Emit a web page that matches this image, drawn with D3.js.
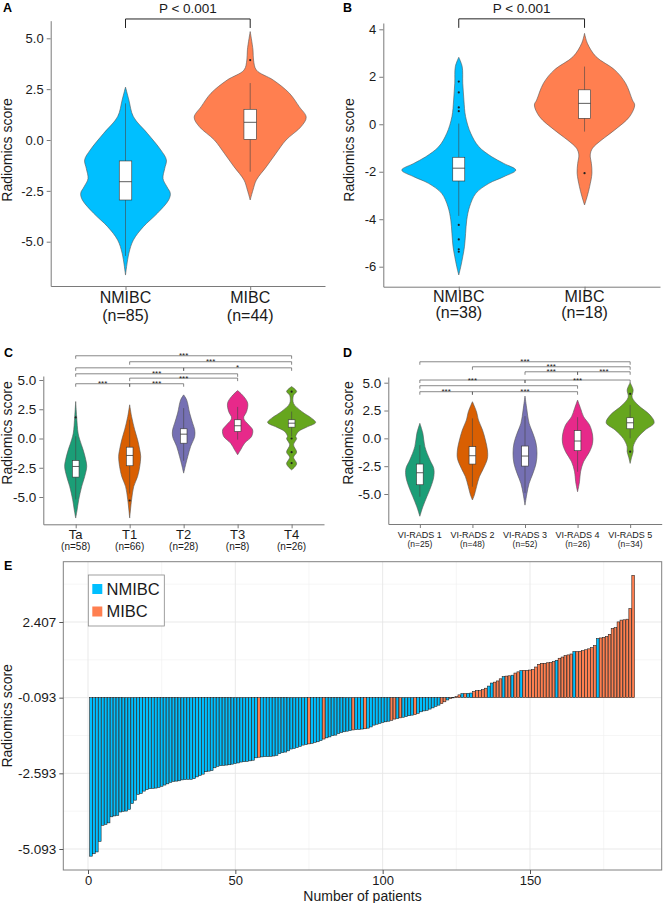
<!DOCTYPE html>
<html><head><meta charset="utf-8">
<script src="https://cdn.jsdelivr.net/npm/d3@7"></script>
<style>
body{margin:0;background:#fff;}
svg{display:block;font-family:"Liberation Sans",Arial,sans-serif;}
</style></head><body>
<svg id="fig" width="664" height="903"></svg>
<script>
// ---------------- DATA ----------------
const catsAB = ["NMIBC", "MIBC"];
const nA = ["(n=85)", "(n=44)"];
const nB = ["(n=38)", "(n=18)"];
const catsC = ["Ta", "T1", "T2", "T3", "T4"];
const nC = ["(n=58)", "(n=66)", "(n=28)", "(n=8)", "(n=26)"];
const catsD = ["VI-RADS 1", "VI-RADS 2", "VI-RADS 3", "VI-RADS 4", "VI-RADS 5"];
const nD = ["(n=25)", "(n=48)", "(n=52)", "(n=26)", "(n=34)"];

const ticksAC = [-5, -2.5, 0, 2.5, 5];
const ticksB = [-6, -4, -2, 0, 2, 4];
const ticksE = [-5.093, -2.593, -0.093, 2.407];
const ticksEx = [0, 50, 100, 150];

// violin density profiles: [radiomics score, relative density]
const densA_NMIBC = [[2.6,0],[1.97,0.06],[1.15,0.14],[0.33,0.39],[-0.49,0.63],[-0.98,0.73],[-1.4,0.70],[-1.9,0.67],[-2.3,0.74],[-2.62,0.80],[-2.95,0.77],[-3.6,0.57],[-4.26,0.32],[-4.92,0.14],[-5.57,0.06],[-6.64,0]];
const densA_MIBC = [[5.33,0],[4.43,0.05],[3.93,0.06],[3.44,0.11],[2.95,0.41],[2.3,0.70],[1.64,0.875],[1.12,1.0],[0.66,0.91],[0,0.64],[-0.66,0.46],[-1.31,0.29],[-1.97,0.11],[-2.46,0.05],[-2.95,0]];
const densB_NMIBC = [[2.82,0],[2.43,0.06],[1.73,0.07],[1.02,0.09],[0.32,0.12],[-0.38,0.21],[-0.94,0.35],[-1.37,0.58],[-1.65,0.79],[-1.93,1.0],[-2.21,0.79],[-2.49,0.53],[-2.91,0.30],[-3.47,0.19],[-4.03,0.14],[-4.6,0.12],[-5.16,0.10],[-5.58,0.07],[-6.0,0.035],[-6.35,0]];
const densB_MIBC = [[3.83,0],[3.41,0.05],[2.85,0.2],[2.29,0.53],[1.73,0.72],[1.02,0.84],[0.81,0.88],[0.32,0.79],[-0.24,0.53],[-0.66,0.3],[-1.01,0.14],[-1.29,0.1],[-1.65,0.12],[-2.06,0.13],[-2.62,0.09],[-3.05,0.045],[-3.4,0]];
const densC_Ta = [[3.16,0],[1.88,0.04],[0.46,0.1],[-0.11,0.17],[-0.97,0.31],[-1.82,0.42],[-2.39,0.46],[-3.25,0.375],[-4.1,0.25],[-5.24,0.125],[-6.1,0.06],[-6.8,0]];
const densC_T1 = [[2.88,0],[1.88,0.08],[0.74,0.21],[-0.11,0.33],[-0.97,0.42],[-1.54,0.46],[-2.39,0.42],[-3.25,0.33],[-4.1,0.17],[-5.24,0.08],[-6.8,0]];
const densC_T2 = [[3.73,0],[3.3,0.125],[2.17,0.25],[1.31,0.375],[0.74,0.46],[0.17,0.46],[-0.68,0.29],[-1.54,0.17],[-2.25,0.08],[-2.96,0]];
const densC_T3 = [[4.1,0],[3.6,0.25],[3.02,0.42],[2.31,0.375],[1.74,0.25],[1.17,0.46],[0.74,0.625],[0.17,0.58],[-0.4,0.29],[-0.97,0.125],[-1.39,0]];
const densC_T4 = [[4.44,0],[4.02,0.21],[3.7,0.08],[3.0,0.08],[2.31,0.42],[1.74,0.83],[1.37,1.0],[0.97,0.625],[0.6,0.29],[0.17,0.17],[0,0.21],[-0.54,0.08],[-1.17,0.21],[-1.6,0.08],[-2.17,0.21],[-2.68,0]];
const densD_1 = [[1.35,0],[0.45,0.125],[-0.75,0.21],[-1.95,0.42],[-2.7,0.58],[-3.45,0.58],[-4.35,0.46],[-5.25,0.29],[-6.15,0.125],[-7.0,0]];
const densD_2 = [[3.29,0],[2.39,0.17],[1.65,0.25],[0.75,0.42],[-0.15,0.54],[-1.05,0.625],[-1.8,0.625],[-2.7,0.46],[-3.45,0.29],[-4.35,0.17],[-5.1,0.08],[-5.54,0]];
const densD_3 = [[3.8,0],[2.55,0.08],[1.35,0.17],[0.45,0.33],[-0.45,0.46],[-1.35,0.5],[-2.25,0.46],[-3.15,0.33],[-4.05,0.17],[-4.95,0.08],[-6.0,0]];
const densD_4 = [[3.44,0],[2.69,0.125],[1.95,0.25],[1.2,0.5],[0.3,0.625],[-0.45,0.625],[-1.2,0.5],[-2.1,0.25],[-3.0,0.125],[-3.9,0.08],[-4.8,0]];
const densD_5 = [[5.0,0],[4.34,0.125],[3.7,0.08],[2.99,0.33],[2.09,0.83],[1.4,1.0],[0.75,0.625],[0,0.29],[-0.75,0.125],[-1.2,0.125],[-1.7,0.06],[-2.25,0]];

// boxplots: [q1, median, q3, lower whisker, upper whisker]
const boxA = [[-2.95,-2.05,-1.03,-5.7,1.8],[0.03,0.87,1.51,-1.56,2.8]];
const boxB = [[-2.39,-1.85,-1.39,-3.86,0.03],[0.25,0.88,1.45,-0.31,2.43]];
const boxC = [[-3.3,-2.39,-1.88,-5.2,0.2],[-2.33,-1.45,-0.74,-4.7,1.6],[-0.4,0.37,0.83,-1.9,2.6],[0.6,1.09,1.6,-0.1,2.7],[0.97,1.31,1.6,0.17,2.3]];
const boxD = [[-4.17,-3.09,-2.31,-5.25,-0.6],[-2.31,-1.56,-0.75,-4.35,1.8],[-2.49,-1.59,-0.69,-4.9,2.0],[-1.11,-0.24,0.69,-3.0,1.9],[0.86,1.4,1.85,0.0,3.0]];
// outliers
const outA = [[], [3.93]];
const outB = [[1.8,1.34,0.71,0.55,-4.24,-4.85,-5.27,-5.37], [-2.06]];
const outC = [[1.8],[-5.3],[],[],[4.0,0.0,-1.17,-2.1]];
const outD = [[],[],[],[],[4.0,-1.2]];

// significance brackets: [from index, to index, label, height (score units)]
const sigA = [[0,1,"P < 0.001",5.95]];
const sigB = [[0,1,"P < 0.001",4.44]];
const sigC = [[0,4,"***",7.07],[1,4,"***",6.56],[0,2,"",6.04],[2,4,"*",6.04],[0,3,"***",5.53],[1,3,"***",5.16],[0,1,"***",4.68],[1,2,"***",4.68]];
const sigD = [[0,4,"***",6.88],[1,4,"***",6.43],[2,3,"***",5.98],[3,4,"***",5.98],[0,2,"***",5.24],[2,4,"***",5.24],[0,3,"",4.73],[0,1,"***",4.19],[1,3,"***",4.19]];

// Panel E: sorted radiomics scores of 185 patients
const scoresE = [-5.33,-5.25,-5.19,-4.84,-4.31,-4.28,-4.23,-4.03,-4.00,-3.98,
-3.87,-3.85,-3.84,-3.78,-3.59,-3.48,-3.29,-3.26,-3.18,-3.13,
-3.10,-3.09,-3.08,-3.06,-3.02,-2.98,-2.94,-2.89,-2.86,-2.85,
-2.84,-2.81,-2.80,-2.79,-2.79,-2.77,-2.71,-2.66,-2.62,-2.54,
-2.52,-2.50,-2.41,-2.36,-2.34,-2.33,-2.32,-2.31,-2.29,-2.27,
-2.25,-2.22,-2.21,-2.20,-2.18,-2.16,-2.08,-2.06,-2.05,-2.04,
-2.04,-2.03,-2.02,-2.00,-1.94,-1.91,-1.89,-1.85,-1.79,-1.77,
-1.74,-1.70,-1.66,-1.64,-1.62,-1.60,-1.57,-1.55,-1.51,-1.46,
-1.42,-1.39,-1.35,-1.33,-1.28,-1.24,-1.22,-1.20,-1.18,-1.16,
-1.15,-1.14,-1.13,-1.12,-1.10,-1.06,-1.00,-0.97,-0.94,-0.91,
-0.89,-0.87,-0.84,-0.80,-0.78,-0.76,-0.74,-0.72,-0.69,-0.67,
-0.65,-0.61,-0.56,-0.53,-0.51,-0.47,-0.43,-0.38,-0.34,-0.29,
-0.23,-0.17,-0.12,-0.10,-0.06,0.00,0.04,0.04,0.05,0.06,
0.11,0.14,0.14,0.17,0.22,0.29,0.39,0.42,0.46,0.53,
0.60,0.62,0.63,0.65,0.72,0.76,0.80,0.81,0.81,0.82,
0.84,0.92,1.01,1.04,1.04,1.06,1.07,1.10,1.14,1.21,
1.25,1.30,1.32,1.35,1.43,1.43,1.44,1.46,1.49,1.52,
1.56,1.63,1.86,1.88,1.90,1.93,2.00,2.19,2.22,2.41,
2.47,2.48,2.50,2.85,3.95];
// ranks (1-based) of MIBC patients in the sorted order
const mibcRanksE = [58,75,80,90,94,103,104,106,111,120,121,123,125,126,128,131,132,133,134,135,
138,139,140,142,143,145,146,148,149,150,151,152,153,154,155,156,157,158,160,161,
162,163,164,166,167,168,169,170,171,172,174,175,176,177,178,179,180,181,182,183,184,185];
const baselineE = -0.093;

// ---------------- DRAWING ----------------
const svg = d3.select("#fig");
const BLUE = "#00BFFF", ORANGE = "#FF7F50";
const DARK2 = ["#1B9E77","#D95F02","#7570B3","#E7298A","#66A61E"];
const AXIS = "#7a7a7a", TXT = "#1a1a1a";

function panelLabel(t, x, y) {
  svg.append("text").attr("x", x).attr("y", y).attr("font-weight", "bold")
    .attr("font-size", 12.5).attr("fill", "#000").text(t);
}

function violinPanel(o) {
  const g = svg.append("g");
  const x = d3.scalePoint().domain(o.cats).range(o.xRange).padding(0.6);
  const y = d3.scaleLinear().domain(o.tickRef).range(o.tickPix);
  y.domain([y.invert(o.yRange[0]), y.invert(o.yRange[1])]).range(o.yRange);
  const w = d3.scaleLinear().domain([0, 1]).range([0, o.maxHW]);

  o.dens.forEach((dd, i) => {
    const cx = x(o.cats[i]);
    const area = d3.area().curve(d3.curveCatmullRom.alpha(0.5))
      .y(d => y(d[0])).x0(d => cx - w(d[1])).x1(d => cx + w(d[1]));
    g.append("path").attr("d", area(dd)).attr("fill", o.colors[i])
      .attr("stroke", "#555").attr("stroke-width", 0.6);
    const b = o.boxes[i];
    g.append("line").attr("x1", cx).attr("x2", cx).attr("y1", y(b[4])).attr("y2", y(b[3]))
      .attr("stroke", "#444").attr("stroke-width", 0.6);
    g.append("rect").attr("x", cx - o.boxW / 2).attr("width", o.boxW)
      .attr("y", y(b[2])).attr("height", y(b[0]) - y(b[2]))
      .attr("fill", "#fff").attr("stroke", "#333").attr("stroke-width", 0.6);
    g.append("line").attr("x1", cx - o.boxW / 2).attr("x2", cx + o.boxW / 2)
      .attr("y1", y(b[1])).attr("y2", y(b[1])).attr("stroke", "#333").attr("stroke-width", 0.8);
    o.outliers[i].forEach(v => {
      g.append("circle").attr("cx", cx).attr("cy", y(v)).attr("r", o.outR).attr("fill", "#222");
    });
  });

  // axes
  const ya = g.append("g").attr("transform", `translate(${o.xRange[0]},0)`)
    .call(d3.axisLeft(y).tickValues(o.ticks).tickFormat(o.fmt).tickSize(4).tickSizeOuter(0).tickPadding(3));
  ya.select(".domain").attr("stroke", AXIS);
  ya.selectAll(".tick line").attr("stroke", AXIS);
  ya.selectAll(".tick text").attr("font-size", o.tickFont).attr("fill", TXT)
    .attr("font-family", "Liberation Sans, Arial, sans-serif");
  const xa = g.append("g").attr("transform", `translate(0,${o.yRange[0]})`)
    .call(d3.axisBottom(x).tickSize(4).tickSizeOuter(0).tickFormat(""));
  xa.select(".domain").attr("stroke", AXIS);
  xa.selectAll(".tick line").attr("stroke", AXIS);

  o.cats.forEach((c, i) => {
    g.append("text").attr("x", x(c)).attr("y", o.lab1Y).attr("text-anchor", "middle")
      .attr("font-size", o.lab1Font).attr("fill", TXT).text(c);
    g.append("text").attr("x", x(c)).attr("y", o.lab2Y).attr("text-anchor", "middle")
      .attr("font-size", o.lab2Font).attr("fill", TXT).text(o.ns[i]);
  });

  g.append("text").attr("transform", `translate(${o.titleX},${o.titleY}) rotate(-90)`)
    .attr("text-anchor", "middle").attr("font-size", 14).attr("fill", TXT).text("Radiomics score");

  o.sig.forEach(s => {
    const x1 = x(o.cats[s[0]]), x2 = x(o.cats[s[1]]), yy = y(s[3]);
    g.append("path").attr("d", `M${x1},${yy + o.tip}V${yy}H${x2}V${yy + o.tip}`)
      .attr("fill", "none").attr("stroke", o.sigColor).attr("stroke-width", o.sigW);
    if (s[2]) g.append("text").attr("x", (x1 + x2) / 2).attr("y", yy + o.sigDy)
      .attr("text-anchor", "middle").attr("font-size", o.sigFont).attr("fill", TXT).text(s[2]);
  });
}

const fmt1 = d => d.toFixed(1);
const fmt0 = d => d.toFixed(0);

// Panel A
panelLabel("A", 3, 12);
violinPanel({cats: catsAB, ns: nA, xRange: [50.7, 325], tickRef: [-5, 5], tickPix: [241.7, 38.3],
  yRange: [286, 20.7], maxHW: 56, boxW: 12.5, outR: 1.1, colors: [BLUE, ORANGE],
  dens: [densA_NMIBC, densA_MIBC], boxes: boxA, outliers: outA, ticks: ticksAC, fmt: fmt1,
  tickFont: 13, lab1Y: 303, lab2Y: 321, lab1Font: 16, lab2Font: 16, titleX: 12, titleY: 150,
  sig: sigA, tip: 9, sigDy: -6, sigFont: 13.5, sigColor: "#222", sigW: 1});

// Panel B
panelLabel("B", 343, 12);
violinPanel({cats: catsAB, ns: nB, xRange: [383.3, 660], tickRef: [-6, 4], tickPix: [266.7, 29.3],
  yRange: [286.7, 23], maxHW: 57, boxW: 12, outR: 1.1, colors: [BLUE, ORANGE],
  dens: [densB_NMIBC, densB_MIBC], boxes: boxB, outliers: outB, ticks: ticksB, fmt: fmt0,
  tickFont: 13, lab1Y: 302, lab2Y: 318, lab1Font: 16, lab2Font: 16, titleX: 354, titleY: 150,
  sig: sigB, tip: 9, sigDy: -6, sigFont: 13.5, sigColor: "#222", sigW: 1});

// Panel C
panelLabel("C", 4, 357);
violinPanel({cats: catsC, ns: nC, xRange: [43.3, 324], tickRef: [-5, 5], tickPix: [497, 380],
  yRange: [524.3, 376], maxHW: 24, boxW: 6.7, outR: 1.1, colors: DARK2,
  dens: [densC_Ta, densC_T1, densC_T2, densC_T3, densC_T4], boxes: boxC, outliers: outC,
  ticks: ticksAC, fmt: fmt1, tickFont: 13.5, lab1Y: 539, lab2Y: 550, lab1Font: 13, lab2Font: 10,
  titleX: 12, titleY: 433, sig: sigC, tip: 3, sigDy: 2.6, sigFont: 8, sigColor: "#555", sigW: 0.7});

// Panel D
panelLabel("D", 343, 357);
violinPanel({cats: catsD, ns: nD, xRange: [388.3, 661.7], tickRef: [-5, 5], tickPix: [494, 382.7],
  yRange: [524, 377], maxHW: 24, boxW: 6.7, outR: 1.1, colors: DARK2,
  dens: [densD_1, densD_2, densD_3, densD_4, densD_5], boxes: boxD, outliers: outD,
  ticks: ticksAC, fmt: fmt1, tickFont: 13.5, lab1Y: 538, lab2Y: 547, lab1Font: 9, lab2Font: 8.5,
  titleX: 353, titleY: 433, sig: sigD, tip: 3, sigDy: 2.6, sigFont: 8, sigColor: "#555", sigW: 0.7});

// Panel E
panelLabel("E", 4, 570);
(function () {
  const g = svg.append("g");
  const L = 63.3, R = 661.7, T = 561.7, B = 870;
  const x = d3.scaleLinear().domain([0, 150]).range([88, 530]);
  x.domain([x.invert(L), x.invert(R)]).range([L, R]);
  const y = d3.scaleLinear().domain([-5.093, 2.407]).range([849, 622]);
  y.domain([y.invert(B), y.invert(T)]).range([B, T]);

  g.append("rect").attr("x", L).attr("y", T).attr("width", R - L).attr("height", B - T).attr("fill", "#fff");
  const minorX = [25, 75, 125, 175], minorY = [-3.843, -1.343, 1.157, 3.657];
  minorX.forEach(v => g.append("line").attr("x1", x(v)).attr("x2", x(v)).attr("y1", T).attr("y2", B)
    .attr("stroke", "#f0f0f0").attr("stroke-width", 0.6));
  minorY.forEach(v => g.append("line").attr("y1", y(v)).attr("y2", y(v)).attr("x1", L).attr("x2", R)
    .attr("stroke", "#f0f0f0").attr("stroke-width", 0.6));
  ticksEx.forEach(v => g.append("line").attr("x1", x(v)).attr("x2", x(v)).attr("y1", T).attr("y2", B)
    .attr("stroke", "#e6e6e6").attr("stroke-width", 0.9));
  ticksE.forEach(v => g.append("line").attr("y1", y(v)).attr("y2", y(v)).attr("x1", L).attr("x2", R)
    .attr("stroke", "#e6e6e6").attr("stroke-width", 0.9));

  const mset = new Set(mibcRanksE);
  g.selectAll("rect.bar").data(scoresE).join("rect").attr("class", "bar")
    .attr("x", (d, i) => x(i + 1 - 0.45)).attr("width", x(1.9) - x(1))
    .attr("y", d => Math.min(y(d), y(baselineE)))
    .attr("height", d => Math.abs(y(d) - y(baselineE)))
    .attr("fill", (d, i) => mset.has(i + 1) ? ORANGE : BLUE)
    .attr("stroke", "#1a1a1a").attr("stroke-width", 0.55);

  g.append("rect").attr("x", L).attr("y", T).attr("width", R - L).attr("height", B - T)
    .attr("fill", "none").attr("stroke", "#808080").attr("stroke-width", 1);

  const ya = g.append("g").attr("transform", `translate(${L},0)`)
    .call(d3.axisLeft(y).tickValues(ticksE).tickFormat(d => d.toFixed(3)).tickSize(4).tickSizeOuter(0).tickPadding(3));
  ya.select(".domain").remove();
  ya.selectAll(".tick line").attr("stroke", "#555");
  ya.selectAll(".tick text").attr("font-size", 13.5).attr("fill", TXT).attr("font-family", "Liberation Sans, Arial, sans-serif");
  const xa = g.append("g").attr("transform", `translate(0,${B})`)
    .call(d3.axisBottom(x).tickValues(ticksEx).tickFormat(d3.format("d")).tickSize(4).tickSizeOuter(0));
  xa.select(".domain").remove();
  xa.selectAll(".tick line").attr("stroke", "#555");
  xa.selectAll(".tick text").attr("font-size", 13).attr("fill", TXT).attr("font-family", "Liberation Sans, Arial, sans-serif")
    .attr("dy", null).attr("y", 14.5);

  g.append("text").attr("x", (L + R) / 2).attr("y", 901).attr("text-anchor", "middle")
    .attr("font-size", 14).attr("fill", TXT).text("Number of patients");
  g.append("text").attr("transform", `translate(12,${(T + B) / 2}) rotate(-90)`)
    .attr("text-anchor", "middle").attr("font-size", 14).attr("fill", TXT).text("Radiomics score");

  // legend
  const lg = g.append("g");
  lg.append("rect").attr("x", 88.3).attr("y", 575).attr("width", 76).attr("height", 51)
    .attr("fill", "#fff").attr("stroke", "#888").attr("stroke-width", 0.8);
  [["NMIBC", BLUE, 584], ["MIBC", ORANGE, 606.5]].forEach(e => {
    lg.append("rect").attr("x", 92.3).attr("y", e[2]).attr("width", 10).attr("height", 10).attr("fill", e[1]);
    lg.append("text").attr("x", 106.5).attr("y", e[2] + 10.5).attr("font-size", 16.5).attr("fill", TXT).text(e[0]);
  });
})();
</script>
</body></html>
